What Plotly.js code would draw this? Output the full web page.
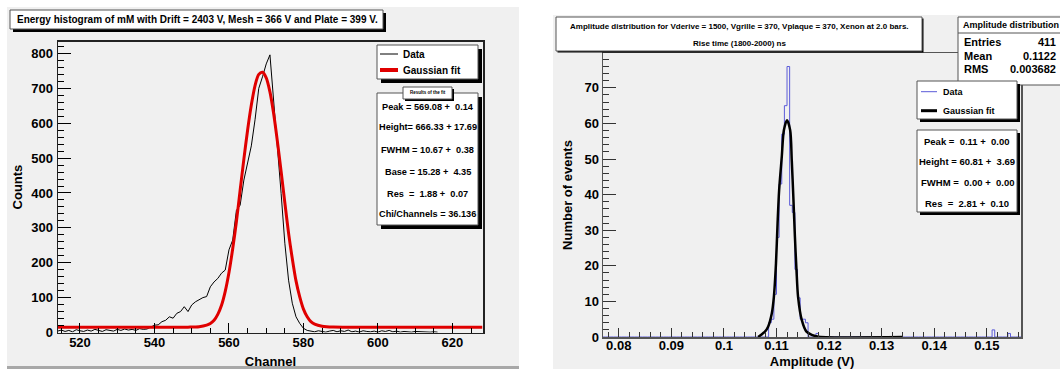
<!DOCTYPE html>
<html><head><meta charset="utf-8">
<script src="https://cdn.plot.ly/plotly-3.0.1.min.js"></script>
<style>html,body{margin:0;padding:0;background:#fff;}#chart{width:1060px;height:369px;}</style>
</head><body><div id="chart"></div>
<script>
// ---------- Left panel: energy histogram ----------
const channel = [514,515,516,517,518,519,520,521,522,523,524,525,526,527,528,529,530,531,532,533,534,535,536,537,538,539,540,541,542,543,544,545,546,547,548,549,550,551,552,553,554,555,556,557,558,559,560,561,562,563,564,565,566,567,568,569,570,571,572,573,574,575,576,577,578,579,580,581,582,583,584,585,586,587,588,589,590,591,592,593,594,595,596,597,598,599,600,601,602,603,604,605,606,607,608,609,610,611,612,613,614,615,616];
const counts = [4,7,3,6,2,8,5,3,7,4,9,5,3,8,6,4,9,6,10,7,9,6,11,9,10,15,21,22,31,35,45,41,55,60,74,60,79,88,95,100,103,131,145,155,170,179,237,265,350,365,437,490,535,610,700,733,770,796,667,543,399,256,150,84,45,26,12,6,4,2,5,3,1,4,6,2,5,3,7,2,4,1,5,3,2,4,1,5,3,6,2,4,1,3,2,1,3,2,1,2,1,2,1];
const fitChannel = [514,530,545,549,552,554,555,556,557,558,559,560,561,562,563,564,565,566,567,568,569,570,571,572,573,574,575,576,577,578,579,580,581,582,583,585,588,595,628];
const fitCounts = [15,15,15.1,15.3,16.5,21,26,35,52,78,118,172,240,318,408,497,580,652,708,740,746,730,690,627,548,462,372,285,212,148,102,67,45,31,24,18,15.5,15.1,15];

// ---------- Right panel: amplitude distribution ----------
const ampMin = 0.077, ampMax = 0.1565, ampBinWidth = 0.0005;
const ampBinStart = [0.1085,0.109,0.1095,0.110,0.1105,0.111,0.1115,0.112,0.1125,0.113,0.1135,0.114,0.1145,0.115,0.1155,0.1175,0.151,0.154];
const ampCounts   = [4,5,12,28,43,57,65,76,37,35,19,11,5,5,4,1,2,1];
const ampFitX = [0.1065,0.1078,0.1084,0.1091,0.1095,0.1099,0.1102,0.1105,0.1110,0.1114,0.1120,0.1126,0.1129,0.1132,0.1135,0.1138,0.1141,0.1148,0.1157,0.1167,0.118,0.134];
const ampFitY = [0,1.5,2.9,6.6,11.3,20.7,31.9,41.3,50.6,58.1,60.9,58.1,49.7,39.4,28.2,18.8,11.3,4.8,1.5,0.6,0.1,0];
const ampTickVals = [0.08,0.09,0.10,0.11,0.12,0.13,0.14,0.15];
const ampTickText = ["0.08","0.09","0.1","0.11","0.12","0.13","0.14","0.15"];

// build histogram step outline
const nb = Math.round((ampMax-ampMin)/ampBinWidth);
const edges = [], vals = [];
for (let i=0;i<=nb;i++){ edges.push(ampMin + i*ampBinWidth); vals.push(0); }
ampBinStart.forEach((s,k)=>{ const i=Math.round((s-ampMin)/ampBinWidth); vals[i]=ampCounts[k]; });

const W=1060,H=369;
const X = p => p/W, Y = p => 1-p/H;
const FONT = 'Liberation Sans, Arial, Helvetica, sans-serif';

const traces = [
  {x:channel, y:counts, type:'scatter', mode:'lines', xaxis:'x', yaxis:'y', line:{color:'#000', width:1}, name:'Data'},
  {x:fitChannel, y:fitCounts, type:'scatter', mode:'lines', xaxis:'x', yaxis:'y', line:{color:'#e00000', width:3, shape:'spline', smoothing:0.8}, name:'Gaussian fit'},
  {x:edges, y:vals, type:'scatter', mode:'lines', xaxis:'x2', yaxis:'y2', line:{color:'#5b5bd8', width:1, shape:'hv'}, name:'Data'},
  {x:ampFitX, y:ampFitY, type:'scatter', mode:'lines', xaxis:'x2', yaxis:'y2', line:{color:'#000', width:2.5, shape:'spline', smoothing:0.8}, name:'Gaussian fit'}
];

function rect(x0,y0,x1,y1,fill,lc,lw,layer){
  return {type:'rect', xref:'paper', yref:'paper', x0:X(x0), x1:X(x1), y0:Y(y0), y1:Y(y1),
    fillcolor:fill, line:{color:lc||fill, width: lw===undefined?0:lw}, layer:layer||'above'};
}
function hline(x0,x1,y,color,w){
  return {type:'line', xref:'paper', yref:'paper', x0:X(x0), x1:X(x1), y0:Y(y), y1:Y(y), line:{color:color,width:w}, layer:'above'};
}
function box(x0,y0,x1,y1,sh){
  return [rect(x0+sh,y0+sh,x1+sh,y1+sh,'#000'), rect(x0,y0,x1,y1,'#ffffff','#555',1)];
}
function ann(x,y,text,size,xanchor){
  return {xref:'paper', yref:'paper', x:X(x), y:Y(y), text:'<b>'+text+'</b>', showarrow:false,
    xanchor:xanchor||'center', yanchor:'middle', font:{family:FONT, size:size, color:'#000'}, borderpad:0};
}
const S='\u00a0';

const shapes = [
  rect(7,7,519,366,'#f0f0f0',null,0,'below'),
  rect(7,366,519,369,'#a8a8a8',null,0,'below'),
  rect(553,15,1060,369,'#f0f0f0',null,0,'below'),
  ...box(10,10,383,29,3),
  ...box(377,45,478,79,4),
  ...box(377,93,478,225,4),
  ...box(403,87,452,99,2),
  hline(380,398,54,'#000',1),
  hline(380,398,70,'#e00000',4),
  ...box(556,17,922,51,1.5),
  rect(958,17,1064,85,'#ffffff','#555',1),
  hline(958,1060,33,'#555',1),
  ...box(917,81,1017,119,3),
  ...box(917,130,1017,212,3),
  hline(921,937,91.7,'#5b5bd8',1),
  hline(921,937,110.7,'#000',3)
];

const annotations = [
  ann(16,19.5,'Energy histogram of mM with Drift = 2403 V, Mesh = 366 V and Plate = 399 V.',10,'left'),
  ann(402,54,'Data',10,'left'),
  ann(402,70,'Gaussian fit',10,'left'),
  ann(427.5,93,'Results of the fit',4.5),
  ann(427.5,107,'Peak = 569.08 +'+S+' 0.14',9.2),
  ann(427.5,127,'Height= 666.33 + 17.69',9.2),
  ann(427.5,150,'FWHM = 10.67 +'+S+' 0.38',9.2),
  ann(427.5,172,'Base = 15.28 +'+S+' 4.35',9.2),
  ann(427.5,194,'Res '+S+'= '+S+'1.88 +'+S+' 0.07',9.2),
  ann(427.5,214,'Chi/Channels = 36.136',9.2),
  ann(739,26.7,'Amplitude distribution for Vderive = 1500, Vgrille = 370, Vplaque = 370, Xenon at 2.0 bars.',8),
  ann(739,43.3,'Rise time (1800-2000) ns',8),
  ann(1010.5,25,'Amplitude distribution',9),
  ann(962.5,41.7,'Entries',11,'left'), ann(1057,41.7,'411',11,'right'),
  ann(962.5,55.7,'Mean',11,'left'), ann(1057,55.7,'0.1122',11,'right'),
  ann(962.5,69.3,'RMS',11,'left'), ann(1057,69.3,'0.003682',11,'right'),
  ann(942,91.7,'Data',9,'left'),
  ann(942,110.7,'Gaussian fit',9,'left'),
  ann(967,141,'Peak = '+S+'0.11 + '+S+'0.00',9.5),
  ann(967,161.7,'Height = 60.81 + '+S+'3.69',9.5),
  ann(967,182,'FWHM = '+S+'0.00 + '+S+'0.00',9.5),
  ann(967,203.3,'Res '+S+'= '+S+'2.81 + '+S+'0.10',9.5)
];

const tf = {family:FONT, size:13, color:'#000', weight:'bold'};
const common = {showgrid:false, zeroline:false, showline:true, mirror:true, ticks:'inside', fixedrange:true, automargin:false, tickfont:tf};

const layout = {
  width:W, height:H, margin:{l:0,r:0,t:0,b:0}, paper_bgcolor:'#ffffff', plot_bgcolor:'#f0f0f0',
  showlegend:false, font:{family:FONT, color:'#000'},
  xaxis: Object.assign({}, common, {domain:[X(58),X(483)], range:[514.1,628.2], tick0:0, dtick:20, ticklen:10, tickcolor:'#000', linecolor:'#222', linewidth:1.5,
    minor:{ticks:'inside', ticklen:5, dtick:5, tickcolor:'#000', tickwidth:1}, ticklabelstandoff:-3, anchor:'y',
    title:{text:'Channel', font:{family:FONT,size:13,weight:'bold',color:'#000'}, standoff:9}}),
  yaxis: Object.assign({}, common, {domain:[Y(332.5),Y(41.6)], range:[0,834], tick0:0, dtick:100, ticklen:13, tickcolor:'#000', linecolor:'#222', linewidth:1.5,
    minor:{ticks:'inside', ticklen:6, dtick:20, tickcolor:'#000', tickwidth:1}, ticklabelstandoff:1, anchor:'x',
    title:{text:'Counts', font:{family:FONT,size:13,weight:'bold',color:'#000'}, standoff:5}}),
  xaxis2: Object.assign({}, common, {domain:[X(603),X(1021)], range:[ampMin,ampMax], tickvals:ampTickVals, ticktext:ampTickText, ticklen:9, tickcolor:'#333', linecolor:'#555', linewidth:1.5,
    minor:{ticks:'inside', ticklen:5, dtick:0.002, tick0:0.08, tickcolor:'#333', tickwidth:1}, ticklabelstandoff:-4, anchor:'y2',
    title:{text:'Amplitude (V)', font:{family:FONT,size:13,weight:'bold',color:'#000'}, standoff:10}}),
  yaxis2: Object.assign({}, common, {domain:[Y(337),Y(53)], range:[0,79.8], tick0:0, dtick:10, ticklen:13, tickcolor:'#333', linecolor:'#555', linewidth:1.5,
    minor:{ticks:'inside', ticklen:6, dtick:2, tickcolor:'#333', tickwidth:1}, ticklabelstandoff:0, anchor:'x2',
    title:{text:'Number of events', font:{family:FONT,size:13,weight:'bold',color:'#000'}, standoff:9}}),
  shapes:shapes, annotations:annotations
};

Plotly.newPlot('chart', traces, layout, {displayModeBar:false, staticPlot:true});
</script></body></html>
